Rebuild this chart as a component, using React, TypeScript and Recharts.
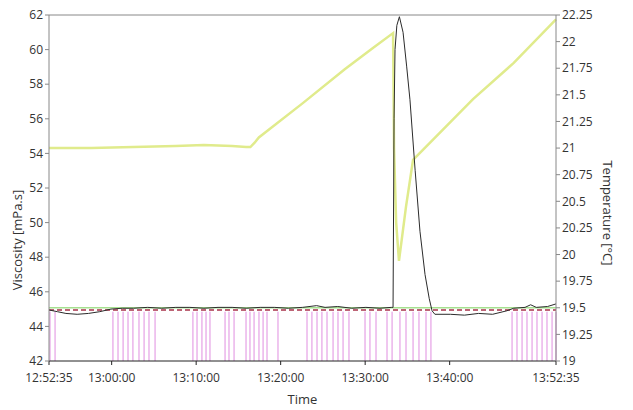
import { LineChart, Line, XAxis, YAxis, ReferenceLine, Label } from "recharts";

// seconds since 12:52:35
const viscTime = [
  0, 60, 120, 200, 280, 360, 440, 520, 600, 700, 800, 900, 1000, 1100, 1200,
  1300, 1400, 1500, 1600, 1700, 1800, 1900, 1960, 2050, 2150, 2250, 2350,
  2430, 2443, 2450, 2457, 2470, 2488, 2514, 2540, 2563, 2600, 2634, 2670,
  2700, 2720, 2740, 2850, 2950, 3050, 3150, 3250, 3300, 3380, 3420, 3460,
  3540, 3600,
];
const viscValue = [
  44.95, 44.85, 44.75, 44.7, 44.75, 44.85, 45.0, 45.05, 45.05, 45.1, 45.05,
  45.1, 45.1, 45.05, 45.1, 45.1, 45.05, 45.1, 45.1, 45.05, 45.1, 45.2, 45.1,
  45.15, 45.05, 45.1, 45.05, 45.1, 45.1, 56.0, 60.0, 61.4, 61.9, 61.0, 59.0,
  57.1, 53.0, 49.5, 47.0, 45.6, 44.9, 44.7, 44.7, 44.65, 44.75, 44.7, 44.9,
  45.05, 45.1, 45.25, 45.1, 45.15, 45.3,
];

const tempTime = [
  0, 300, 600, 900, 1100, 1300, 1400, 1430, 1460, 1490, 1800, 2100, 2300,
  2443, 2450, 2465, 2485, 2535, 2585, 3011, 3300, 3600,
];
const tempValue = [
  21.0, 21.0, 21.01, 21.02, 21.03, 21.02, 21.01, 21.01, 21.05, 21.1, 21.42,
  21.74, 21.94, 22.08, 21.0, 20.3, 19.94, 20.45, 20.89, 21.46, 21.8, 22.21,
];

const eventTimes = [
  7, 43, 454, 490, 526, 561, 596, 639, 675, 710, 753, 1022, 1051, 1086, 1115,
  1143, 1250, 1278, 1314, 1399, 1427, 1456, 1491, 1520, 1548, 1626, 1832,
  1867, 1903, 1938, 1974, 2017, 2052, 2088, 2130, 2244, 2279, 2322, 2400,
  2436, 2492, 2535, 2585, 2627, 2677, 2712, 3288, 3323, 3359, 3394, 3430,
  3465, 3501, 3536, 3572, 3600,
];
const eventLevel = 44.85;
const viscLimit = 44.95;
const tempLimit = 19.5;

const timeTicks = [0, 445, 1045, 1645, 2245, 2845, 3600];
const timeLabels = ["12:52:35", "13:00:00", "13:10:00", "13:20:00", "13:30:00", "13:40:00", "13:52:35"];
const viscTicks = [42, 44, 46, 48, 50, 52, 54, 56, 58, 60, 62];
const tempTicks = [19, 19.25, 19.5, 19.75, 20, 20.25, 20.5, 20.75, 21, 21.25, 21.5, 21.75, 22, 22.25];

const viscData = viscTime.map((t, i) => ({ t, v: viscValue[i] }));
const tempData = tempTime.map((t, i) => ({ t, temp: tempValue[i] }));

const font = "'Open Sans', 'Noto Sans', sans-serif";
const tickStyle = { fontSize: 12, fill: "#333", fontFamily: font };

function LeftTitle(props: any) {
  const vb = props.viewBox;
  const x = vb.x + 17;
  const y = vb.y + vb.height / 2 + 52;
  return (
    <text x={x} y={y} transform={`rotate(-90, ${x}, ${y})`} textAnchor="middle" dominantBaseline="central" fontSize={13} fill="#333" fontFamily={font}>
      Viscosity [mPa.s]
    </text>
  );
}

function RightTitle(props: any) {
  const vb = props.viewBox;
  const x = vb.x + 52;
  const y = vb.y + vb.height / 2 + 25;
  return (
    <text x={x} y={y} transform={`rotate(90, ${x}, ${y})`} textAnchor="middle" dominantBaseline="central" fontSize={13} fill="#333" fontFamily={font}>
      Temperature [°C]
    </text>
  );
}

export default function App() {
  return (
    <div style={{ position: "absolute", left: 0, top: 0, background: "#fff" }}>
      <LineChart width={633} height={410} margin={{ top: 15, right: 0, bottom: 0, left: 0 }}>
        <XAxis
          dataKey="t"
          type="number"
          domain={[0, 3600]}
          ticks={timeTicks}
          tickFormatter={(v: number) => timeLabels[timeTicks.indexOf(v)]}
          interval={0}
          height={49}
          tickSize={4}
          tickMargin={8}
          tick={tickStyle}
          stroke="#222"
          allowDuplicatedCategory={false}
        >
          <Label content={(p: any) => (
            <text x={p.viewBox.x + p.viewBox.width / 2} y={p.viewBox.y + 38} textAnchor="middle" dominantBaseline="central" fontSize={13} fill="#333" fontFamily={font}>
              Time
            </text>
          )} />
        </XAxis>
        <YAxis
          yAxisId="v"
          orientation="left"
          type="number"
          domain={[42, 62]}
          ticks={viscTicks}
          interval={0}
          width={49}
          tickSize={4}
          tick={tickStyle}
          stroke="#888"
        >
          <Label content={LeftTitle} />
        </YAxis>
        <YAxis
          yAxisId="t"
          orientation="right"
          type="number"
          domain={[19, 22.25]}
          ticks={tempTicks}
          interval={0}
          width={77}
          tickSize={4}
          tick={tickStyle}
          stroke="#888"
        >
          <Label content={RightTitle} />
        </YAxis>

        <ReferenceLine yAxisId="v" y={62} stroke="#888" strokeWidth={1} />
        {eventTimes.map((t) => (
          <ReferenceLine
            key={t}
            yAxisId="v"
            segment={[{ x: t, y: 42 }, { x: t, y: eventLevel }]}
            stroke="#e08ee0"
            strokeWidth={1}
            ifOverflow="visible"
          />
        ))}
        <ReferenceLine yAxisId="t" y={tempLimit} stroke="#a6e08f" strokeWidth={1.5} />
        <ReferenceLine yAxisId="v" y={viscLimit} stroke="#a8324a" strokeWidth={1.5} strokeDasharray="5 3" />

        <Line
          yAxisId="t"
          data={tempData}
          dataKey="temp"
          type="linear"
          stroke="#e0eb8c"
          strokeWidth={2.5}
          dot={false}
          isAnimationActive={false}
        />
        <Line
          yAxisId="v"
          data={viscData}
          dataKey="v"
          type="linear"
          stroke="#2b2b2b"
          strokeWidth={1}
          dot={false}
          isAnimationActive={false}
        />
      </LineChart>
    </div>
  );
}
